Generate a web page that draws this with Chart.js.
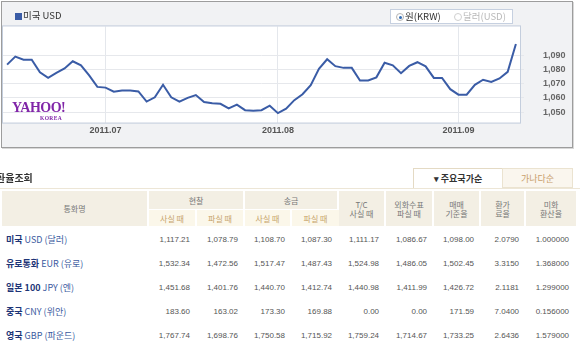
<!DOCTYPE html>
<html>
<head>
<meta charset="utf-8">
<script src="https://cdn.jsdelivr.net/npm/chart.js@4"></script>
<style>
body { margin:0; width:580px; height:349px; overflow:hidden; background:#fff; position:relative;
       font-family:"Noto Sans CJK KR","Liberation Sans",sans-serif; }
#frame { position:absolute; left:1px; top:1px; width:572px; height:147px; box-sizing:border-box;
         border:1px solid #9d9d9d; background:#f1f2f4; box-shadow:1px 1px 0 #d8d8d8; }
#chart-wrap { position:absolute; left:0; top:0; width:570px; height:145px; }
.legend { position:absolute; left:15px; top:9px; font-size:9.5px; color:#333; line-height:12px; }
.legend i { display:inline-block; width:7px; height:7px; background:#3a5ca6; margin-right:1px; vertical-align:-0.5px; }
.radio-box { position:absolute; left:390px; top:9px; width:123px; height:15px; box-sizing:border-box;
             border:1px solid #c6d0e0; background:#fff; font-size:9.5px; line-height:13px; }
.radio-box span { position:absolute; top:0; }
.rd { position:absolute; top:3px; width:8px; height:8px; box-sizing:border-box; border-radius:50%;
      border:1px solid #b5b5b5; background:#fff; }
.rd.on::after { content:''; position:absolute; left:1.5px; top:1.5px; width:3px; height:3px; border-radius:50%; background:#2f6bb5; }
.yahoo { position:absolute; left:12px; top:101px; color:#8025a8; font-family:"Liberation Serif",serif;
         font-weight:bold; font-size:14px; line-height:14px; letter-spacing:-0.5px; }
.yahoo small { position:absolute; left:28px; top:14px; font-size:5.5px; line-height:6px; letter-spacing:0.4px; }
.title { position:absolute; left:-4px; top:171px; font-size:10px; font-weight:bold; color:#333; line-height:14px; }
.sep { position:absolute; left:0; top:188px; width:580px; height:1px; background:#ede6d6; }
.tab { position:absolute; top:168px; height:20px; box-sizing:border-box; text-align:center; font-size:9px; line-height:19px; }
.tab1 { left:413px; width:90px; background:#fff; border:1px solid #e4dac4; border-bottom:none; color:#333; font-weight:bold; }
.tab2 { left:502px; width:71px; background:#faf6ee; border:1px solid #ebe3d0; color:#c9a06c; }
table { position:absolute; left:2px; top:191px; border-collapse:separate; border-spacing:0; table-layout:fixed; width:574px; }
th { background:#f3efe4; color:#787878; font-weight:normal; font-size:8px; line-height:9px; padding:0;
     border-right:2px solid #fff; border-bottom:1px solid #fff; }
th.sub { background:#fbf7ea; color:#c7a46a; }
th:last-child { border-right:none; }
td { font-size:8px; color:#555; text-align:right; padding:0 7px 0 0; height:24px; white-space:nowrap; font-family:"Liberation Sans",sans-serif; }
td.name { text-align:left; padding-left:4px; color:#3b5aa0; font-size:9px; font-family:"Noto Sans CJK KR",sans-serif; }
td.name b { color:#1e3577; font-size:9px; }
</style>
</head>
<body>
<div id="frame"><div id="chart-wrap"><canvas id="fx-canvas" width="570" height="145"></canvas></div></div>

<div class="legend"><i></i>미국 USD</div>
<div class="radio-box">
  <div class="rd on" style="left:5px"></div><span style="left:14px;color:#333">원(KRW)</span>
  <div class="rd" style="left:63px;border-color:#d0d0d0"></div><span style="left:72px;color:#b9b9b9">달러(USD)</span>
</div>
<div class="yahoo">YAHOO!<small>KOREA</small></div>

<div class="title">환율조회</div>
<div class="sep"></div>
<div class="tab tab1">▾ 주요국가순</div>
<div class="tab tab2">가나다순</div>

<table id="rate-table">
  <colgroup>
    <col style="width:147px"><col style="width:48px"><col style="width:48px"><col style="width:47px"><col style="width:47px">
    <col style="width:47px"><col style="width:48px"><col style="width:47px"><col style="width:45px"><col style="width:50px">
  </colgroup>
  <thead>
    <tr style="height:19px">
      <th rowspan="2">통화명</th>
      <th colspan="2">현찰</th>
      <th colspan="2">송금</th>
      <th rowspan="2">T/C<br>사실 때</th>
      <th rowspan="2">외화수표<br>파실 때</th>
      <th rowspan="2">매매<br>기준율</th>
      <th rowspan="2">환가<br>료율</th>
      <th rowspan="2">미화<br>환산율</th>
    </tr>
    <tr style="height:17px">
      <th class="sub">사실 때</th><th class="sub">파실 때</th>
      <th class="sub">사실 때</th><th class="sub">파실 때</th>
    </tr>
  </thead>
  <tbody id="rate-body"></tbody>
</table>

<script>
// ============================================================
// Chart data — USD/KRW daily, 2011.06.15 ~ 2011.09.14
// ============================================================
const DATES = [
    '2011.06.15', '2011.06.16', '2011.06.17', '2011.06.20', '2011.06.21', '2011.06.22',
    '2011.06.23', '2011.06.24', '2011.06.27', '2011.06.28', '2011.06.29', '2011.06.30',
    '2011.07.01', '2011.07.04', '2011.07.05', '2011.07.06', '2011.07.07', '2011.07.08',
    '2011.07.11', '2011.07.12', '2011.07.13', '2011.07.14', '2011.07.15', '2011.07.18',
    '2011.07.19', '2011.07.20', '2011.07.21', '2011.07.22', '2011.07.25', '2011.07.26',
    '2011.07.27', '2011.07.28', '2011.07.29',
    '2011.08.01', '2011.08.02', '2011.08.03', '2011.08.04', '2011.08.05', '2011.08.08',
    '2011.08.09', '2011.08.10', '2011.08.11', '2011.08.12', '2011.08.16', '2011.08.17',
    '2011.08.18', '2011.08.19', '2011.08.22', '2011.08.23', '2011.08.24', '2011.08.25',
    '2011.08.26', '2011.08.29', '2011.08.30', '2011.08.31',
    '2011.09.01', '2011.09.02', '2011.09.05', '2011.09.06', '2011.09.07', '2011.09.08',
    '2011.09.09', '2011.09.14'
];

const USD_KRW = [
    1083.6, 1089.3, 1087.1, 1087.1, 1078.2, 1074.2, 1077.8, 1080.9, 1086.0, 1083.1, 1076.0, 1067.8,
    1067.3, 1064.4, 1065.3, 1065.3, 1064.6, 1057.4, 1060.4, 1069.3, 1060.4, 1057.4, 1060.0, 1062.0,
    1057.1, 1056.2, 1055.8, 1052.5, 1055.2, 1051.3, 1050.9, 1051.3, 1054.5,
    1049.2, 1052.4, 1058.4, 1062.6, 1069.1, 1080.6, 1087.4, 1082.5, 1081.3, 1081.3, 1072.4, 1072.4,
    1074.6, 1084.9, 1083.1, 1077.5, 1082.7, 1085.3, 1082.4, 1074.2, 1074.2, 1066.2,
    1062.3, 1062.3, 1069.3, 1072.9, 1071.3, 1073.8, 1078.5, 1098.2
];

const Y_TICKS = [1050, 1060, 1070, 1080, 1090];
const Y_MIN = 1042.5;
const Y_MAX = 1110.7;

// ============================================================
// Table data — 환율조회
// ============================================================
const CUR_BOLD  = ['미국', '유로통화', '일본 100', '중국', '영국'];
const CUR_REST  = ['USD (달러)', 'EUR (유로)', 'JPY (엔)', 'CNY (위안)', 'GBP (파운드)'];
const CASH_BUY  = ['1,117.21', '1,532.34', '1,451.68', '183.60', '1,767.74'];
const CASH_SELL = ['1,078.79', '1,472.56', '1,401.76', '163.02', '1,698.76'];
const SEND_BUY  = ['1,108.70', '1,517.47', '1,440.70', '173.30', '1,750.58'];
const SEND_SELL = ['1,087.30', '1,487.43', '1,412.74', '169.88', '1,715.92'];
const TC_BUY    = ['1,111.17', '1,524.98', '1,440.98', '0.00', '1,759.24'];
const CHK_SELL  = ['1,086.67', '1,486.05', '1,411.99', '0.00', '1,714.67'];
const BASE_RATE = ['1,098.00', '1,502.45', '1,426.72', '171.59', '1,733.25'];
const FEE_RATE  = ['2.0790', '3.3150', '2.1181', '7.0400', '2.6436'];
const USD_CONV  = ['1.000000', '1.368000', '1.299000', '0.156000', '1.579000'];

function buildTable() {
    const body = document.getElementById('rate-body');
    CUR_BOLD.forEach((name, i) => {
        const tr = document.createElement('tr');
        const cells = [CASH_BUY[i], CASH_SELL[i], SEND_BUY[i], SEND_SELL[i], TC_BUY[i],
                       CHK_SELL[i], BASE_RATE[i], FEE_RATE[i], USD_CONV[i]];
        tr.innerHTML = `<td class="name"><b>${name}</b> ${CUR_REST[i]}</td>` +
            cells.map(v => `<td>${v}</td>`).join('');
        body.appendChild(tr);
    });
}

// month start indexes get a label + vertical grid line
const monthStarts = DATES.map((d, i) => i > 0 && d.slice(5, 7) !== DATES[i - 1].slice(5, 7));

const plotFrame = {
    id: 'plotFrame',
    beforeDraw(chart) {
        const { ctx, chartArea: a } = chart;
        ctx.save();
        ctx.fillStyle = '#ffffff';
        ctx.fillRect(a.left, a.top, a.right - a.left, a.bottom - a.top);
        ctx.restore();
    },
    beforeDatasetsDraw(chart) {
        const { ctx, chartArea: a } = chart;
        ctx.save();
        ctx.strokeStyle = '#c4cedd';
        ctx.lineWidth = 1;
        ctx.strokeRect(a.left - 0.5, a.top - 0.5, a.right - a.left + 1, a.bottom - a.top + 1);
        ctx.restore();
    }
};

function renderChart() {
    const ctx = document.getElementById('fx-canvas').getContext('2d');
    new Chart(ctx, {
        type: 'line',
        data: {
            labels: DATES,
            datasets: [{
                label: '미국 USD',
                data: USD_KRW,
                borderColor: '#3a5ca6',
                borderWidth: 2,
                pointRadius: 0,
                tension: 0,
                fill: false
            }]
        },
        options: {
            responsive: false,
            animation: false,
            layout: { padding: { left: 1, top: 1, right: 0, bottom: 0 } },
            plugins: { legend: { display: false }, tooltip: { enabled: false } },
            scales: {
                x: {
                    type: 'category',
                    offset: true,
                    afterFit: s => { s.height = 19; },
                    border: { display: false },
                    grid: {
                        offset: false,
                        drawTicks: false,
                        color: c => monthStarts[c.index] ? '#e4e7ec' : 'rgba(0,0,0,0)'
                    },
                    ticks: {
                        autoSkip: false,
                        maxRotation: 0,
                        padding: 3,
                        color: '#555',
                        font: { family: 'Liberation Sans', size: 9, weight: 'bold' },
                        callback: (v, i) => monthStarts[i] ? DATES[i].slice(0, 7) : ''
                    }
                },
                y: {
                    position: 'right',
                    min: Y_MIN,
                    max: Y_MAX,
                    afterFit: s => { s.width = 52; },
                    afterBuildTicks: s => { s.ticks = Y_TICKS.map(v => ({ value: v })); },
                    border: { display: false },
                    grid: { color: '#e6e8ec', tickLength: 4 },
                    ticks: {
                        padding: 19,
                        color: '#666',
                        font: { family: 'Liberation Sans', size: 9, weight: 'bold' },
                        callback: v => v.toLocaleString('en-US')
                    }
                }
            }
        },
        plugins: [plotFrame]
    });
}

buildTable();
renderChart();
</script>
</body>
</html>
